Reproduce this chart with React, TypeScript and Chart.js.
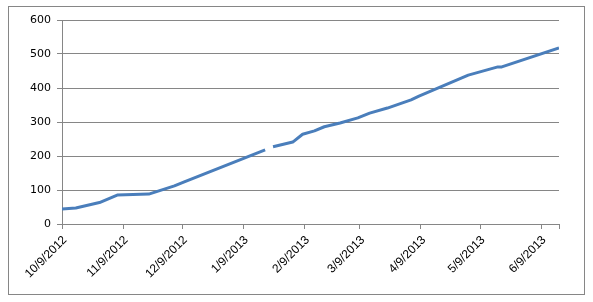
import React, { useEffect, useRef } from "react";
import { Chart, registerables } from "chart.js";

Chart.register(...registerables);

// Days since 10/9/2012 and the running total (null = gap)
const dayOffsets = [0, 7, 19, 28, 44, 57, 62, 103, 105, 107, 117, 122, 128, 133, 141, 150, 156, 165, 177, 181, 206, 221, 223, 252];
const counts: (number | null)[] = [44, 47, 63, 85, 88, 112, 124, 218, null, 227, 241, 264, 274, 286, 297, 312, 326, 341, 365, 376, 438, 462, 462, 518];

const tickDays = [0, 31, 61, 92, 123, 151, 182, 212, 243];
const tickLabels = ["10/9/2012", "11/9/2012", "12/9/2012", "1/9/2013", "2/9/2013", "3/9/2013", "4/9/2013", "5/9/2013", "6/9/2013"];
const yTicks = [0, 100, 200, 300, 400, 500, 600];

const GRID = "#868686";
const LINE = "#4a7ebb";

const borderPlugin = {
  id: "outerBorder",
  afterDraw(chart: any) {
    const ctx = chart.ctx;
    ctx.save();
    ctx.strokeStyle = GRID;
    ctx.lineWidth = 1;
    ctx.strokeRect(8.5, 6.5, 576, 288);
    ctx.restore();
  },
};

export default function App() {
  const ref = useRef<HTMLCanvasElement>(null);
  useEffect(() => {
    document.body.style.margin = "0";
    const canvas = ref.current!;
    const points = dayOffsets.map((d, i) => ({ x: d, y: counts[i] }));
    const chart = new Chart(canvas, {
      type: "line",
      data: {
        datasets: [
          {
            data: points as any,
            borderColor: LINE,
            borderWidth: 3,
            pointRadius: 0,
            tension: 0,
            spanGaps: false,
            borderJoinStyle: "round",
            borderCapStyle: "butt",
          },
        ],
      },
      options: {
        responsive: false,
        animation: false,
        layout: { padding: { left: 8, top: 20, right: 34, bottom: 0 } },
        plugins: { legend: { display: false }, tooltip: { enabled: false } },
        scales: {
          x: {
            type: "linear",
            min: 0,
            max: 252,
            afterBuildTicks: (s: any) => {
              s.ticks = [...tickDays, 252].map((v) => ({ value: v }));
            },
            ticks: {
              autoSkip: false,
              minRotation: 45,
              maxRotation: 45,
              padding: 4,
              labelOffset: 3,
              color: "#000",
              font: { family: "Liberation Sans", size: 12 },
              callback: (v: any) => {
                const i = tickDays.indexOf(Number(v));
                return i >= 0 ? tickLabels[i] : "";
              },
            },
            grid: { drawOnChartArea: false, drawTicks: true, tickLength: 5, color: GRID },
            border: { color: GRID },
            afterFit: (s: any) => {
              s.height = 78;
            },
          },
          y: {
            min: 0,
            max: 600,
            afterBuildTicks: (s: any) => {
              s.ticks = yTicks.map((v) => ({ value: v }));
            },
            ticks: {
              padding: 6,
              color: "#000",
              font: { family: "DejaVu Sans", size: 11 },
            },
            grid: { color: GRID, tickLength: 5 },
            border: { color: GRID },
            afterFit: (s: any) => {
              s.width = 54;
            },
          },
        },
      },
      plugins: [borderPlugin],
    });
    return () => chart.destroy();
  }, []);
  return (
    <div style={{ width: 593, height: 302 }}>
      <canvas ref={ref} width={593} height={302} style={{ display: "block" }} />
    </div>
  );
}
